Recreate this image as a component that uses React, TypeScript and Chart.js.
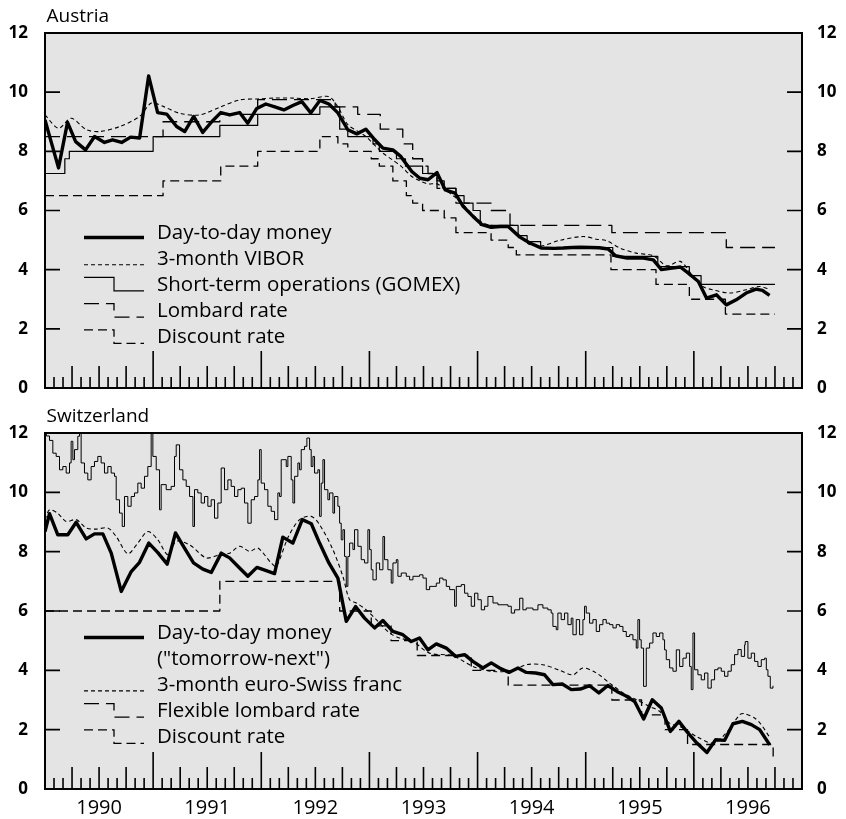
import React, { useEffect, useRef } from 'react';
import { Chart, registerables } from 'chart.js';

Chart.register(...registerables);

type Pt = [number, number];

// x = months since January 1990
const X_MIN = 0;
const X_MAX = 84;
const YEAR_LABELS = ['1990', '1991', '1992', '1993', '1994', '1995', '1996'];
const Y_MIN = 0;
const Y_MAX = 12;
const Y_STEP = 2;

// ---------------- Austria ----------------
const AT_DAY_TO_DAY: Pt[] = [
  [0, 9.06], [1.5, 7.44], [2.5, 8.98], [3.4, 8.33], [4.5, 8.05], [5.5, 8.5], [6.6, 8.3], [7.5, 8.39],
  [8.5, 8.3], [9.5, 8.48], [10.5, 8.45], [11.5, 10.55], [12.5, 9.31], [13.5, 9.26], [14.6, 8.84],
  [15.5, 8.67], [16.5, 9.18], [17.5, 8.64], [18.5, 9.0], [19.5, 9.31], [20.5, 9.23], [21.6, 9.31],
  [22.5, 8.95], [23.5, 9.45], [24.5, 9.6], [25.5, 9.5], [26.5, 9.4], [27.5, 9.55], [28.5, 9.68],
  [29.5, 9.3], [30.5, 9.72], [31.5, 9.6], [32.5, 9.3], [33.6, 8.73], [34.6, 8.59], [35.6, 8.75],
  [36.6, 8.39], [37.5, 8.11], [38.6, 8.05], [39.5, 7.82], [40.7, 7.32], [41.6, 7.09], [42.5, 7.04],
  [43.5, 7.28], [44.4, 6.7], [45.5, 6.59], [46.4, 6.14], [47.5, 5.8], [48.5, 5.52], [49.5, 5.43],
  [50.5, 5.46], [51.4, 5.46], [52.7, 5.1], [53.8, 4.9], [55.1, 4.73], [56.5, 4.72], [57.5, 4.73],
  [58.5, 4.75], [59.4, 4.76], [60.5, 4.75], [61.5, 4.74], [62.5, 4.7], [63.3, 4.47], [64.6, 4.39],
  [65.5, 4.39], [66.4, 4.39], [67.5, 4.33], [68.4, 4.0], [69.6, 4.05], [70.5, 4.09], [71.6, 3.83],
  [72.5, 3.6], [73.4, 3.04], [74.5, 3.15], [75.6, 2.81], [76.7, 2.98], [77.8, 3.21], [78.9, 3.34],
  [79.6, 3.3], [80.4, 3.13],
];

const AT_VIBOR: Pt[] = [
  [0, 9.23], [1.5, 8.78], [2.9, 9.12], [4.6, 8.73], [6.1, 8.67], [8.3, 8.84], [10.5, 9.18],
  [11.8, 9.63], [13.1, 9.52], [14.9, 9.29], [17.1, 9.23], [19.4, 9.49], [21.6, 9.74], [23.6, 9.77],
  [25.5, 9.8], [27.5, 9.8], [29.5, 9.78], [31.5, 9.85], [32.5, 9.5], [33.6, 8.9], [34.6, 8.7],
  [35.6, 8.5], [36.6, 8.2], [37.5, 7.94], [38.6, 7.7], [39.5, 7.5], [40.7, 7.15], [41.6, 7.0],
  [42.5, 6.9], [43.5, 6.9], [44.4, 6.7], [45.5, 6.45], [46.4, 6.2], [47.5, 5.85], [48.5, 5.6],
  [49.5, 5.5], [51.4, 5.45], [52.7, 5.1], [53.8, 4.85], [55.1, 4.8], [57.1, 4.99], [59.7, 5.12],
  [61.2, 5.03], [62.3, 4.98], [63.8, 4.73], [65.6, 4.56], [67.5, 4.47], [69.0, 4.13], [70.5, 4.28],
  [71.9, 3.77], [73.0, 3.43], [74.1, 3.32], [76.0, 3.21], [77.8, 3.32], [79.3, 3.43], [80.4, 3.34],
];

const AT_GOMEX: Pt[] = [
  [0, 7.25], [2.2, 7.75], [2.7, 8.0], [12.0, 8.5], [19.4, 8.875], [23.6, 9.25], [30.5, 9.5],
  [32.7, 8.75], [33.6, 8.5], [36.4, 8.25], [37.1, 8.0], [39.0, 7.75], [40.0, 7.5], [41.9, 7.25],
  [43.5, 7.0], [44.3, 6.75], [45.6, 6.5], [46.5, 6.25], [47.5, 6.0], [48.3, 5.5], [52.5, 5.15],
  [53.5, 4.95], [55.0, 4.75], [63.0, 4.45], [68.0, 4.1], [71.5, 3.8], [72.8, 3.5], [81.0, 3.5],
];

const AT_LOMBARD: Pt[] = [
  [0, 8.5], [13.1, 9.0], [19.4, 9.25], [23.6, 9.75], [32.2, 9.5], [34.7, 9.25], [37.2, 8.75],
  [39.7, 8.25], [40.8, 7.75], [41.9, 7.5], [42.5, 7.25], [43.5, 6.75], [45.6, 6.25], [49.5, 6.0],
  [51.6, 5.5], [62.9, 5.25], [75.6, 4.75], [81.0, 4.75],
];

const AT_DISCOUNT: Pt[] = [
  [0, 6.5], [13.1, 7.0], [19.5, 7.5], [23.6, 8.0], [30.5, 8.5], [32.5, 8.25], [33.6, 8.0],
  [36.2, 7.75], [37.1, 7.5], [38.6, 7.0], [40.1, 6.5], [40.8, 6.25], [41.9, 6.0], [44.3, 5.75],
  [45.6, 5.25], [49.5, 5.0], [51.4, 4.75], [52.3, 4.5], [62.8, 4.0], [67.8, 3.5], [71.5, 3.0],
  [75.5, 2.5], [81.0, 2.5],
];

// ---------------- Switzerland ----------------
const CH_DAY_TO_DAY: Pt[] = [
  [0, 8.68], [0.5, 9.28], [1.42, 8.57], [2.53, 8.57], [3.46, 8.99], [4.57, 8.43], [5.49, 8.6],
  [6.42, 8.6], [7.35, 7.95], [8.46, 6.66], [9.57, 7.33], [10.49, 7.64], [11.52, 8.29], [12.52, 7.97],
  [13.56, 7.58], [14.48, 8.63], [15.48, 8.12], [16.48, 7.62], [17.51, 7.41], [18.45, 7.3],
  [19.56, 7.95], [20.48, 7.79], [21.59, 7.45], [22.51, 7.17], [23.51, 7.47], [24.55, 7.36],
  [25.47, 7.26], [26.39, 8.49], [27.5, 8.29], [28.55, 9.08], [29.55, 8.94], [30.47, 8.29],
  [31.5, 7.62], [32.5, 7.11], [33.43, 5.65], [34.46, 6.15], [35.46, 5.76], [36.57, 5.43],
  [37.49, 5.68], [38.6, 5.31], [39.71, 5.2], [40.64, 4.97], [41.56, 5.09], [42.49, 4.69],
  [43.42, 4.89], [44.53, 4.75], [45.56, 4.47], [46.56, 4.53], [47.48, 4.3], [48.59, 4.08],
  [49.52, 4.25], [50.44, 4.08], [51.48, 3.93], [52.48, 4.08], [53.41, 3.93], [54.44, 3.91],
  [55.44, 3.85], [56.36, 3.52], [57.4, 3.54], [58.4, 3.35], [59.4, 3.37], [60.43, 3.48],
  [61.46, 3.24], [62.46, 3.49], [63.46, 3.29], [64.43, 3.14], [65.43, 2.95], [66.43, 2.36],
  [67.39, 3.01], [68.39, 2.73], [69.39, 1.94], [70.34, 2.28], [71.34, 1.89], [72.34, 1.55],
  [73.45, 1.23], [74.42, 1.66], [75.42, 1.64], [76.34, 2.2], [77.38, 2.28], [78.38, 2.17],
  [79.3, 2.0], [80.41, 1.49],
];

const CH_EURO_3M: Pt[] = [
  [0, 9.08], [0.5, 9.41], [1.4, 9.3], [2.35, 9.02], [3.46, 9.08], [4.57, 8.8], [5.68, 8.76],
  [6.97, 8.8], [7.9, 8.51], [9.19, 7.93], [10.3, 8.29], [11.41, 8.68], [12.52, 8.4], [13.63, 7.9],
  [14.56, 8.35], [16.04, 8.23], [17.89, 7.79], [19.37, 7.9], [20.48, 7.95], [21.59, 8.18],
  [22.7, 8.01], [23.62, 8.12], [25.1, 7.62], [25.66, 7.5], [27.0, 8.5], [28.25, 9.08],
  [29.54, 9.19], [30.47, 8.91], [31.94, 8.07], [33.05, 7.17], [33.8, 6.38], [34.54, 6.27],
  [35.65, 6.04], [36.76, 5.71], [38.24, 5.26], [39.35, 5.09], [40.82, 4.97], [42.67, 4.58],
  [45.26, 4.49], [47.48, 4.13], [49.7, 3.96], [51.92, 4.0], [53.41, 4.19], [55.25, 4.19],
  [57.1, 4.0], [58.58, 3.85], [59.69, 4.08], [61.18, 3.91], [62.65, 3.57], [64.13, 3.24],
  [65.62, 3.01], [67.09, 2.78], [68.2, 2.62], [69.31, 2.22], [70.79, 2.06], [72.28, 1.77],
  [74.12, 1.55], [75.6, 1.89], [77.08, 2.5], [77.6, 2.54], [78.7, 2.4], [79.4, 2.2], [80.4, 1.75],
];

const CH_FLEX_LOMBARD: Pt[] = [
  [0, 12.3], [0.15, 11.9], [0.5, 11.75], [0.87, 11.32], [1.24, 11.21], [1.61, 10.76], [1.98, 10.87],
  [2.35, 10.65], [2.72, 10.99], [2.9, 11.72], [3.09, 11.1], [3.27, 11.44], [3.64, 11.89], [3.83, 12.2],
  [4.01, 10.99], [4.38, 10.65], [4.75, 10.42], [5.12, 10.87], [5.49, 11.04], [5.86, 11.21],
  [6.23, 10.99], [6.6, 10.65], [6.97, 10.87], [7.34, 10.65], [7.71, 10.54], [7.9, 9.75], [8.27, 9.3],
  [8.57, 8.85], [8.82, 9.86], [9.19, 9.53], [9.56, 9.86], [9.93, 9.98], [10.3, 10.31], [10.67, 10.14],
  [11.04, 10.54], [11.41, 10.87], [11.78, 12.1], [11.97, 11.21], [12.34, 10.76], [12.71, 9.41],
  [12.89, 10.26], [13.45, 10.09], [14.0, 10.2], [14.37, 11.21], [14.56, 11.6], [14.93, 10.76],
  [15.3, 10.42], [15.67, 10.2], [16.04, 9.86], [16.41, 8.85], [16.59, 10.09], [16.96, 9.98],
  [17.33, 9.64], [17.7, 9.86], [18.07, 9.53], [18.44, 9.75], [18.81, 9.13], [19.18, 9.64],
  [19.55, 10.82], [19.92, 10.09], [20.29, 10.42], [20.66, 10.2], [21.03, 9.86], [21.4, 10.09],
  [21.77, 10.14], [22.14, 9.64], [22.51, 8.96], [22.88, 9.75], [23.25, 9.86], [23.62, 10.42],
  [23.81, 11.44], [23.99, 10.31], [24.36, 10.09], [24.73, 9.53], [25.1, 9.36], [25.47, 9.08],
  [25.84, 9.98], [26.03, 9.86], [26.21, 11.1], [26.4, 11.1], [26.77, 10.87], [26.95, 11.21],
  [27.32, 10.42], [27.51, 9.64], [27.7, 10.54], [28.06, 10.99], [28.25, 10.76], [28.43, 11.44],
  [28.8, 11.55], [29.06, 11.83], [29.36, 11.44], [29.54, 10.87], [29.73, 11.21], [29.91, 10.65],
  [30.28, 10.76], [30.47, 9.19], [30.65, 10.31], [30.84, 11.1], [31.02, 10.09], [31.39, 9.75],
  [31.58, 9.98], [31.95, 9.3], [32.13, 9.86], [32.5, 9.53], [32.69, 8.96], [32.87, 8.4],
  [33.06, 8.74], [33.24, 7.84], [33.43, 6.83], [33.61, 7.84], [33.8, 8.29], [34.17, 8.07],
  [34.35, 8.74], [34.72, 8.18], [35.09, 7.73], [35.46, 7.62], [35.83, 8.74], [36.02, 8.07],
  [36.2, 7.39], [36.39, 7.05], [36.76, 7.62], [37.13, 7.39], [37.5, 8.51], [37.68, 7.73],
  [38.05, 7.39], [38.42, 6.94], [38.61, 7.62], [38.98, 7.73], [39.16, 7.17], [39.53, 7.28],
  [40.09, 7.17], [40.46, 7.05], [40.83, 7.17], [41.57, 7.22], [41.94, 7.11], [42.31, 6.72],
  [42.68, 6.83], [43.05, 6.83], [43.42, 6.94], [43.79, 7.11], [44.16, 7.05], [44.53, 6.83],
  [44.9, 6.72], [45.45, 6.16], [45.64, 6.83], [46.19, 6.89], [46.56, 6.6], [46.93, 6.49],
  [47.3, 6.16], [47.67, 6.6], [48.04, 6.38], [48.41, 6.04], [48.78, 6.16], [49.15, 6.49],
  [49.71, 6.27], [50.26, 6.21], [50.82, 6.21], [51.37, 6.16], [51.74, 5.93], [52.11, 6.04],
  [52.67, 6.43], [53.03, 6.04], [53.4, 6.1], [54.14, 6.04], [54.7, 6.21], [55.25, 6.1],
  [55.8, 6.04], [56.17, 5.93], [56.36, 5.48], [56.73, 5.37], [56.91, 5.93], [57.28, 5.71],
  [57.65, 5.93], [58.02, 5.54], [58.39, 5.76], [58.58, 5.2], [58.95, 5.71], [59.32, 5.2],
  [59.69, 5.71], [59.87, 6.16], [60.06, 5.93], [60.43, 5.59], [60.8, 5.71], [61.17, 5.31],
  [61.54, 5.54], [61.91, 5.71], [62.28, 5.59], [62.65, 5.54], [63.02, 5.43], [63.39, 5.54],
  [63.76, 5.48], [64.13, 5.31], [64.5, 5.14], [64.87, 5.2], [65.24, 5.03], [65.61, 4.75],
  [65.79, 5.71], [65.98, 5.03], [66.16, 4.75], [66.42, 3.46], [66.72, 4.75], [67.09, 4.92],
  [67.46, 5.26], [67.83, 5.14], [68.2, 5.26], [68.57, 5.03], [68.75, 4.69], [68.94, 4.36],
  [69.31, 4.08], [69.68, 3.97], [70.05, 4.69], [70.42, 4.13], [70.79, 4.41], [71.16, 4.58],
  [71.53, 4.13], [71.71, 3.35], [71.9, 5.26], [72.08, 4.02], [72.45, 3.85], [72.82, 3.68],
  [73.19, 3.91], [73.56, 3.4], [73.93, 3.68], [74.3, 4.02], [74.67, 4.08], [75.04, 3.97],
  [75.41, 3.8], [75.78, 3.97], [76.15, 4.19], [76.52, 4.53], [76.89, 4.7], [77.26, 4.47],
  [77.63, 4.86], [77.7, 4.97], [78.0, 4.41], [78.37, 4.58], [78.74, 4.3], [79.11, 4.13],
  [79.48, 4.36], [79.85, 4.41], [80.04, 4.02], [80.22, 3.8], [80.48, 3.4], [80.78, 3.48],
];

const CH_DISCOUNT: Pt[] = [
  [0, 6.0], [19.4, 7.0], [32.7, 6.0], [36.2, 5.5], [38.4, 5.0], [41.3, 4.5], [47.3, 4.0],
  [51.4, 3.5], [62.9, 3.0], [66.2, 2.5], [68.8, 2.0], [71.3, 1.5], [80.8, 1.0], [80.95, 1.0],
];

// ---------------- styling ----------------
const FONT = '"Open Sans", Lato, sans-serif';

type Kind = 'thick' | 'fine' | 'solidStep' | 'longStep' | 'shortStep' | 'thinJagged';

const STYLE: Record<Kind, { width: number; dash: number[]; stepped: false | 'before'; tension: number }> = {
  thick: { width: 3.4, dash: [], stepped: false, tension: 0 },
  fine: { width: 1.1, dash: [4, 3], stepped: false, tension: 0.3 },
  solidStep: { width: 1.2, dash: [], stepped: 'before', tension: 0 },
  longStep: { width: 1.3, dash: [15, 7], stepped: 'before', tension: 0 },
  shortStep: { width: 1.3, dash: [9, 5], stepped: 'before', tension: 0 },
  thinJagged: { width: 1, dash: [], stepped: 'before', tension: 0 },
};

interface Series {
  label: string[];
  data: Pt[];
  kind: Kind;
  legendKind: Kind;
}

const AT_SERIES: Series[] = [
  { label: ['Day-to-day money'], data: AT_DAY_TO_DAY, kind: 'thick', legendKind: 'thick' },
  { label: ['3-month VIBOR'], data: AT_VIBOR, kind: 'fine', legendKind: 'fine' },
  { label: ['Short-term operations (GOMEX)'], data: AT_GOMEX, kind: 'solidStep', legendKind: 'solidStep' },
  { label: ['Lombard rate'], data: AT_LOMBARD, kind: 'longStep', legendKind: 'longStep' },
  { label: ['Discount rate'], data: AT_DISCOUNT, kind: 'shortStep', legendKind: 'shortStep' },
];

const CH_SERIES: Series[] = [
  { label: ['Day-to-day money', '("tomorrow-next")'], data: CH_DAY_TO_DAY, kind: 'thick', legendKind: 'thick' },
  { label: ['3-month euro-Swiss franc'], data: CH_EURO_3M, kind: 'fine', legendKind: 'fine' },
  { label: ['Flexible lombard rate'], data: CH_FLEX_LOMBARD, kind: 'thinJagged', legendKind: 'longStep' },
  { label: ['Discount rate'], data: CH_DISCOUNT, kind: 'shortStep', legendKind: 'shortStep' },
];

const LEGEND = { x0: 84, xMid: 114, x1: 144, textX: 157, firstBaseline: 238.5, lineH: 26.2, stepRise: 13.5 };

function decorPlugin(title: string, series: Series[]) {
  return {
    id: 'panelDecor',
    beforeDraw(chart: any) {
      const { ctx, chartArea: a } = chart;
      ctx.save();
      ctx.fillStyle = '#e4e4e4';
      ctx.fillRect(a.left, a.top, a.right - a.left, a.bottom - a.top);
      ctx.restore();
    },
    afterDraw(chart: any) {
      const { ctx, chartArea: a, scales } = chart;
      const xs = scales.x;
      const ys = scales.y;
      ctx.save();
      ctx.strokeStyle = '#000';
      ctx.fillStyle = '#000';
      ctx.setLineDash([]);
      // inward ticks
      ctx.lineWidth = 1.6;
      ctx.beginPath();
      for (let m = X_MIN + 1; m < X_MAX; m++) {
        const len = m % 12 === 0 ? 37 : m % 3 === 0 ? 22 : 11;
        const px = xs.getPixelForValue(m);
        ctx.moveTo(px, a.bottom);
        ctx.lineTo(px, a.bottom - len);
      }
      for (let v = Y_MIN + Y_STEP; v < Y_MAX; v += Y_STEP) {
        const py = ys.getPixelForValue(v);
        ctx.moveTo(a.left, py);
        ctx.lineTo(a.left + 15, py);
        ctx.moveTo(a.right, py);
        ctx.lineTo(a.right - 15, py);
      }
      ctx.stroke();
      // frame
      ctx.lineWidth = 2;
      ctx.strokeRect(a.left, a.top, a.right - a.left, a.bottom - a.top);
      // title
      ctx.font = `19px ${FONT}`;
      ctx.textBaseline = 'alphabetic';
      ctx.textAlign = 'left';
      ctx.fillText(title, a.left + 1.5, a.top - 11.5);
      // legend
      let b = LEGEND.firstBaseline;
      ctx.font = `20.5px ${FONT}`;
      for (const s of series) {
        const st = STYLE[s.legendKind];
        ctx.lineWidth = st.width;
        ctx.setLineDash(st.dash);
        ctx.lineDashOffset = 0;
        ctx.beginPath();
        if (s.legendKind === 'thick') {
          ctx.moveTo(LEGEND.x0, b - 1);
          ctx.lineTo(LEGEND.x1, b - 1);
        } else if (s.legendKind === 'fine') {
          ctx.moveTo(LEGEND.x0, b);
          ctx.lineTo(LEGEND.x1, b);
        } else {
          ctx.moveTo(LEGEND.x0, b - LEGEND.stepRise);
          ctx.lineTo(LEGEND.xMid, b - LEGEND.stepRise);
          ctx.lineTo(LEGEND.xMid, b);
          ctx.lineTo(LEGEND.x1, b);
        }
        ctx.stroke();
        ctx.setLineDash([]);
        s.label.forEach((line, i) => {
          ctx.fillText(line, LEGEND.textX, b + i * LEGEND.lineH);
        });
        b += LEGEND.lineH * s.label.length;
      }
      ctx.restore();
    },
  };
}

function Panel({ title, series, height, showYears }: { title: string; series: Series[]; height: number; showYears: boolean }) {
  const ref = useRef<HTMLCanvasElement | null>(null);
  useEffect(() => {
    if (!ref.current) return;
    const yAxis = (position: 'left' | 'right', width: number, gap: number) => ({
      type: 'linear' as const,
      position,
      min: Y_MIN,
      max: Y_MAX,
      grid: { display: false, drawTicks: true, tickLength: gap },
      border: { display: false },
      ticks: {
        stepSize: Y_STEP,
        padding: 0,
        color: '#000',
        font: { family: FONT, size: 17, weight: 'bold' as const },
      },
      afterFit: (s: any) => {
        s.width = width;
      },
    });
    const chart = new Chart(ref.current, {
      type: 'line',
      data: {
        datasets: series.map((s) => {
          const st = STYLE[s.kind];
          return {
            label: s.label.join(' '),
            data: s.data.map(([x, y]) => ({ x, y })),
            borderColor: '#000',
            backgroundColor: '#000',
            borderWidth: st.width,
            borderDash: st.dash,
            stepped: st.stepped,
            tension: st.tension,
            pointRadius: 0,
            fill: false,
            borderJoinStyle: 'round' as const,
          };
        }),
      },
      options: {
        animation: false,
        responsive: false,
        events: [],
        layout: { padding: { top: 33, left: 0, right: 0, bottom: 0 } },
        plugins: { legend: { display: false }, tooltip: { enabled: false }, title: { display: false } },
        scales: {
          x: {
            type: 'linear',
            min: X_MIN,
            max: X_MAX,
            grid: { display: false, drawTicks: false },
            border: { display: false },
            ticks: {
              display: showYears,
              stepSize: 6,
              autoSkip: false,
              maxRotation: 0,
              padding: 7,
              color: '#000',
              font: { family: FONT, size: 20 },
              callback: (v: any) => {
                const n = Number(v);
                return n % 12 === 6 ? YEAR_LABELS[(n - 6) / 12] : '';
              },
            },
            afterFit: (s: any) => {
              s.height = showYears ? 30 : 12;
            },
          },
          y: yAxis('left', 45, 17),
          y2: yAxis('right', 44, 15),
        },
      },
      plugins: [decorPlugin(title, series)],
    } as any);
    return () => chart.destroy();
  }, [title, series, height, showYears]);
  return <canvas ref={ref} width={846} height={height} style={{ display: 'block' }} />;
}

export default function App() {
  return (
    <div style={{ position: 'absolute', left: 0, top: 0, width: 846, height: 819, background: '#fff' }}>
      <Panel title="Austria" series={AT_SERIES} height={400} showYears={false} />
      <Panel title="Switzerland" series={CH_SERIES} height={419} showYears={true} />
    </div>
  );
}
